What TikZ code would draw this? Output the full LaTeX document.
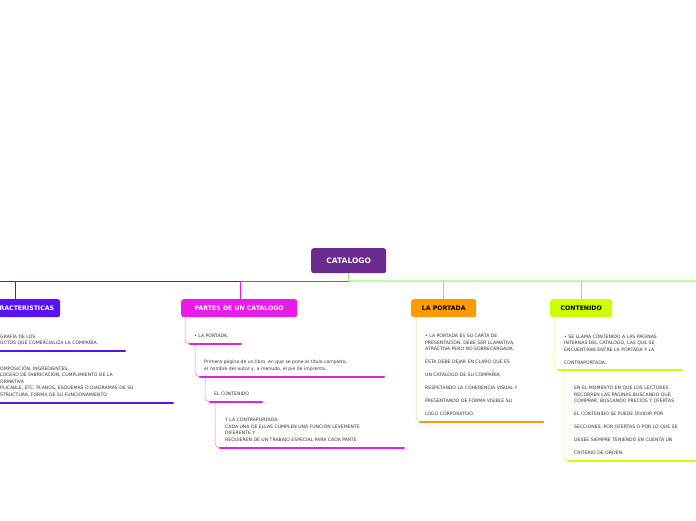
\documentclass[tikz,border=0pt]{standalone}
\usepackage{fontspec}
\setmainfont{DejaVu Sans}
\usetikzlibrary{positioning}
\definecolor{raiz}{HTML}{6A2A8E}
\definecolor{carac}{HTML}{5A12F2}
\definecolor{partes}{HTML}{E81BE8}
\definecolor{portada}{HTML}{FF9A00}
\definecolor{conten}{HTML}{CCFF00}
\definecolor{tronco}{HTML}{44F000}
\tikzset{
  rama/.style={rounded corners=2.5pt,fill=#1,text=white,font=\bfseries\fontsize{6.2}{7}\selectfont,
    minimum height=18pt,inner xsep=6pt,anchor=north west},
  hoja/.style={anchor=north west,inner sep=0pt,align=left,text=black!80,
    font=\fontsize{4.6}{6.5}\selectfont},
  raya/.style={#1,line width=2.2pt,line cap=round},
  enlace/.style={#1!60,line width=0.5pt}
}
\begin{document}
\begin{tikzpicture}[x=1pt,y=-1pt]
\useasboundingbox (0,0) rectangle (696,520);
\clip (0,0) rectangle (696,520);
% raiz
\node[rama=raiz,minimum height=25pt,minimum width=75pt,font=\bfseries\fontsize{7.5}{8}\selectfont] (cat) at (311,248) {CATALOGO};
\draw[tronco,line width=0.7pt] (cat.south) -- (349,281) -- (696,281);
\draw[partes,line width=0.7pt] (349,281) -- (15,281);
\draw[carac,line width=0.7pt] (240,281) -- (0,281);
% ramas
\node[rama=carac,minimum width=76pt] (car) at (-16,299) {CARACTERISTICAS};
\node[rama=partes,minimum width=116pt] (par) at (181,299) {PARTES DE UN CATALOGO};
\node[rama=portada,minimum width=65pt,text=black] (por) at (411,299) {LA PORTADA};
\node[rama=conten,minimum width=62pt,text=black] (con) at (550,299) {CONTENIDO};
\draw[carac,line width=0.6pt] (15,281) -- (car.north -| 15,0);
\draw[partes,line width=0.6pt] (240,281) -- (par.north -| 240,0);
\draw[portada!70,line width=0.6pt] (443,281) -- (por.north -| 443,0);
\draw[conten!80!black!70,line width=0.6pt] (581,281) -- (con.north -| 581,0);
% caracteristicas
\node[hoja] (c1) at (0,334) {GRAFÍA DE LOS\\UCTOS QUE COMERCIALIZA LA COMPAÑÍA.};
\draw[raya=carac] (0,351) -- (125,351);
\node[hoja] (c2) at (0,366) {OMPOSICIÓN, INGREDIENTES,\\LOCESO DE FABRICACIÓN, CUMPLIMIENTO DE LA\\ORMATIVA\\PLICABLE, ETC. PLANOS, ESQUEMAS O DIAGRAMAS DE SU\\STRUCTURA, FORMA DE SU FUNCIONAMIENTO};
\draw[raya=carac] (0,403) -- (173,403);
% partes
\coordinate (p1) at (190,344);
\coordinate (p2) at (200,377);
\coordinate (p3) at (210,402);
\coordinate (p4) at (220,448);
\node[hoja] (pt1) at (194,334) {• LA PORTADA,};
\node[hoja] (pt2) at (204,360) {Primera página de un libro, en que se pone el título completo,\\el nombre del autor y, a menudo, el pie de imprenta.};
\node[hoja] (pt3) at (214,392) {EL CONTENIDO};
\node[hoja] (pt4) at (225,418) {Y LA CONTRAPORTADA.\\CADA UNA DE ELLAS CUMPLEN UNA FUNCIÓN LEVEMENTE\\DIFERENTE Y\\REQUIEREN DE UN TRABAJO ESPECIAL PARA CADA PARTE};
\draw[enlace=partes] (185,317) -- (185,339) to[out=-90,in=180] (p1);
\draw[enlace=partes] (195,344) -- (195,372) to[out=-90,in=180] (p2);
\draw[enlace=partes] (205,377) -- (205,397) to[out=-90,in=180] (p3);
\draw[enlace=partes] (215,402) -- (215,443) to[out=-90,in=180] (p4);
\draw[raya=partes] (p1) -- (241,344);
\draw[raya=partes] (p2) -- (384,377);
\draw[raya=partes] (p3) -- (262,402);
\draw[raya=partes] (p4) -- (404,448);
% portada
\coordinate (o1) at (420,422);
\node[hoja] (ot1) at (425,334) {• LA PORTADA ES SU CARTA DE\\PRESENTACIÓN. DEBE SER LLAMATIVA,\\ATRACTIVA PERO NO SOBRECARGADA.\\[6.5pt]ÉSTA DEBE DEJAR EN CLARO QUE ES\\[6.5pt]UN CATÁLOGO DE SU COMPAÑÍA,\\[6.5pt]RESPETANDO LA COHERENCIA VISUAL Y\\[6.5pt]PRESENTANDO DE FORMA VISIBLE SU\\[6.5pt]LOGO CORPORATIVO.};
\draw[enlace=portada] (416,317) -- (416,417) to[out=-90,in=180] (o1);
\draw[raya=portada] (o1) -- (543,422);
% contenido
\coordinate (n1) at (558,370);
\coordinate (n2) at (568,461);
\node[hoja] (nt1) at (564,334) {• SE LLAMA CONTENIDO A LAS PÁGINAS\\INTERNAS DEL CATÁLOGO, LAS QUE SE\\ENCUENTRAN ENTRE LA PORTADA Y LA\\[6.5pt]CONTRAPORTADA.};
\node[hoja] (nt2) at (574,386) {EN EL MOMENTO EN QUE LOS LECTORES\\RECORREN LAS PÁGINAS BUSCANDO QUÉ\\COMPRAR, BUSCANDO PRECIOS Y OFERTAS\\[6.5pt]EL CONTENIDO SE PUEDE DIVIDIR POR\\[6.5pt]SECCIONES, POR OFERTAS O POR LO QUE SE\\[6.5pt]DESEE SIEMPRE TENIENDO EN CUENTA UN\\[6.5pt]CRITERIO DE ORDEN.};
\draw[enlace=conten] (554,317) -- (554,365) to[out=-90,in=180] (n1);
\draw[enlace=conten] (564,370) -- (564,456) to[out=-90,in=180] (n2);
\draw[raya=conten] (n1) -- (682,370);
\draw[raya=conten] (n2) -- (700,461);
\end{tikzpicture}
\end{document}
